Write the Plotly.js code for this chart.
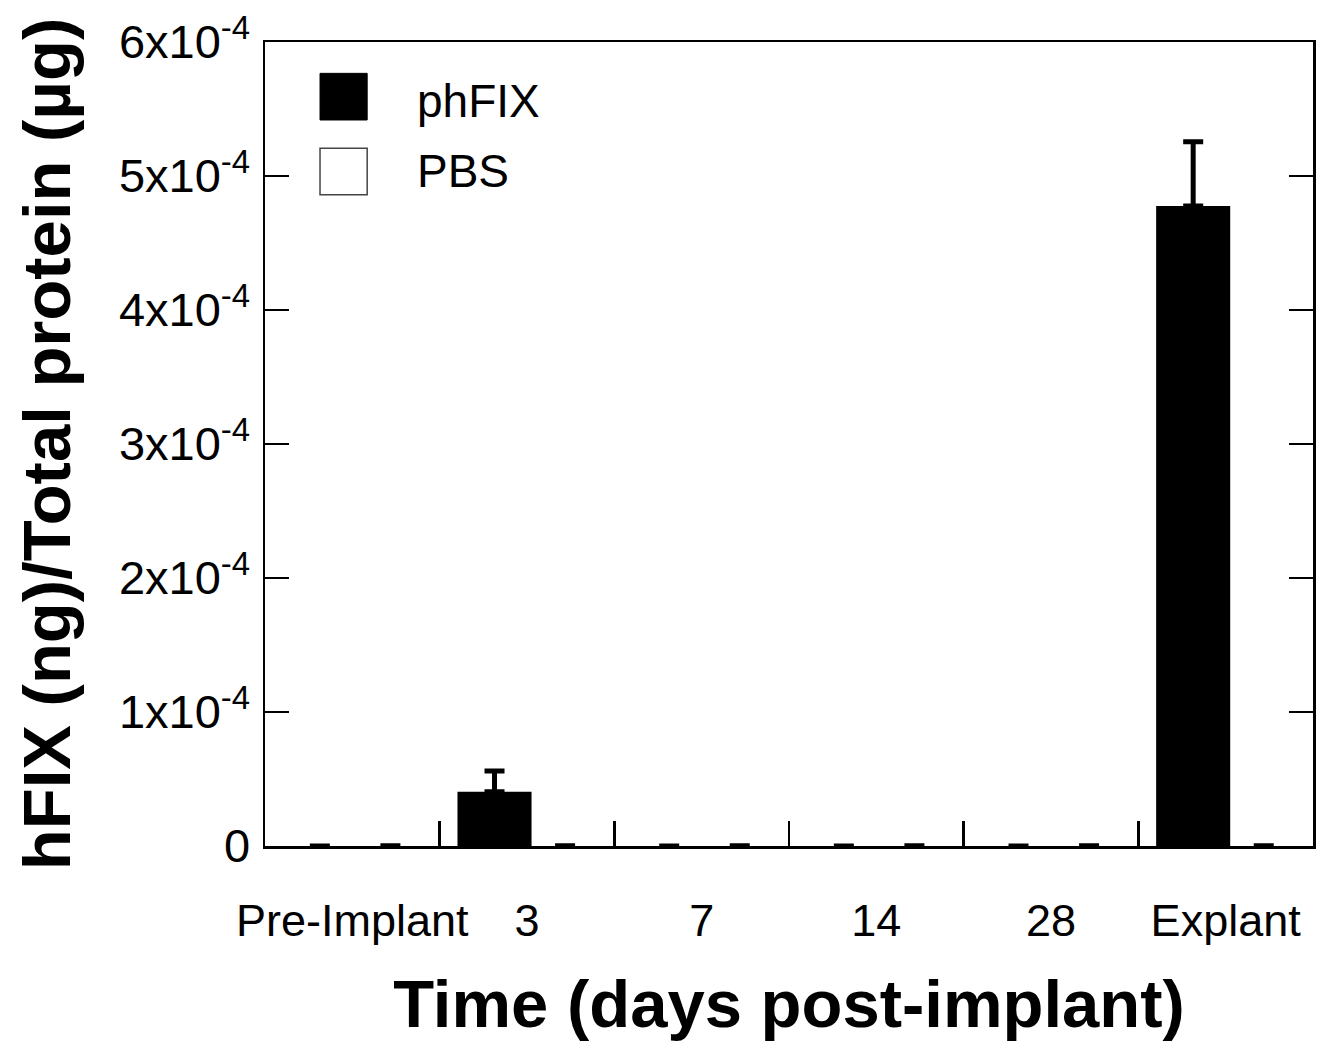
<!DOCTYPE html>
<html>
<head>
<meta charset="utf-8">
<script src="https://cdn.plot.ly/plotly-3.0.1.min.js"></script>
<style>html,body{margin:0;padding:0;background:#fff;}#chart{width:1329px;height:1050px;}</style>
</head>
<body>
<div id="chart"></div>
<script>
var categories = ["Pre-Implant", "3", "7", "14", "28", "Explant"];
var phFIX = [0, 0.405e-4, 0, 0, 0, 4.776e-4];
var phFIXErr = [0, 0.155e-4, 0, 0, 0, 0.48e-4];
var pbs = [0, 0, 0, 0, 0, 0];
var pbsErr = [0, 0, 0, 0, 0, 0];
var yTickVals = [0, 1e-4, 2e-4, 3e-4, 4e-4, 5e-4, 6e-4];
var yTickText = ["0", "1x10<sup>-4</sup>", "2x10<sup>-4</sup>", "3x10<sup>-4</sup>", "4x10<sup>-4</sup>", "5x10<sup>-4</sup>", "6x10<sup>-4</sup>"];
var seriesNames = ["phFIX", "PBS"];

var FONT = "Liberation Sans, Arial, sans-serif";

var traces = [
  {
    type: "bar", name: seriesNames[0], x: categories, y: phFIX,
    width: 0.424, offset: -0.398,
    marker: {color: "#000000", line: {width: 0}},
    error_y: {type: "data", symmetric: false, array: phFIXErr, arrayminus: pbsErr, color: "#000000", thickness: 5, width: 10},
    showlegend: false
  },
  {
    type: "bar", name: seriesNames[1], x: categories, y: pbs,
    width: 0.424, offset: 0.006,
    marker: {color: "#ffffff", line: {width: 0}},
    error_y: {type: "data", symmetric: false, array: pbsErr, arrayminus: pbsErr, color: "#000000", thickness: 5.5, width: 10},
    showlegend: false
  }
];

var layout = {
  width: 1329, height: 1050,
  margin: {l: 265, r: 16, t: 42, b: 204},
  paper_bgcolor: "#ffffff", plot_bgcolor: "#ffffff",
  barmode: "group",
  showlegend: false,
  font: {family: FONT, color: "#000000"},
  xaxis: {
    type: "category", range: [-0.5, 5.5], tickangle: 0, automargin: false,
    showline: true, mirror: true, linecolor: "#000", linewidth: 2.5, layer: "below traces",
    ticks: "inside", tickson: "boundaries", ticklen: 25, tickwidth: 2.5, tickcolor: "#000",
    ticklabelstandoff: 33,
    showgrid: false, zeroline: false,
    tickfont: {family: FONT, size: 45, color: "#000"},
    title: {text: "<b>Time (days post-implant)</b>", font: {family: FONT, size: 67, color: "#000"}, standoff: 36}
  },
  yaxis: {
    range: [0, 6e-4], tickmode: "array", tickvals: yTickVals, ticktext: yTickText, automargin: false,
    showline: true, mirror: "ticks", linecolor: "#000", linewidth: 2.5,
    ticks: "inside", ticklen: 24, tickwidth: 2.5, tickcolor: "#000",
    ticklabelstandoff: 3,
    showgrid: false, zeroline: false,
    tickfont: {family: FONT, size: 47, color: "#000"},
    title: {text: "<b>hFIX (ng)/Total protein (µg)</b>", font: {family: FONT, size: 67, color: "#000"}, standoff: 27}
  },
  shapes: [
    {type: "rect", xref: "paper", yref: "paper", x0: 0.0525, x1: 0.0975, y0: 0.903, y1: 0.961, fillcolor: "#000", line: {color: "#000", width: 1}},
    {type: "rect", xref: "paper", yref: "paper", x0: 0.0525, x1: 0.0975, y0: 0.81, y1: 0.868, fillcolor: "#fff", line: {color: "#444", width: 1.5}}
  ],
  annotations: [
    {xref: "paper", yref: "paper", x: 0.143, y: 0.927, xanchor: "left", yanchor: "middle", text: seriesNames[0], showarrow: false, font: {family: FONT, size: 46, color: "#000"}},
    {xref: "paper", yref: "paper", x: 0.143, y: 0.84, xanchor: "left", yanchor: "middle", text: seriesNames[1], showarrow: false, font: {family: FONT, size: 46, color: "#000"}}
  ]
};

Plotly.newPlot("chart", traces, layout, {displayModeBar: false, staticPlot: true});
</script>
</body>
</html>
